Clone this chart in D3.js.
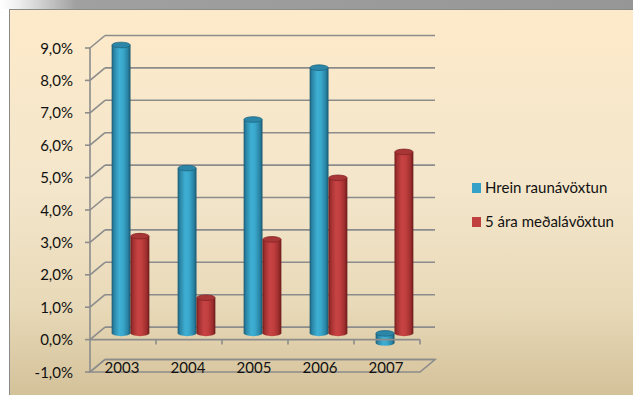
<!DOCTYPE html>
<html>
<head>
<meta charset="utf-8">
<script src="https://cdn.jsdelivr.net/npm/d3@7"></script>
<style>
  html, body { margin: 0; padding: 0; background: #ffffff; }
  svg { display: block; }
  text { font-family: Lato, "Open Sans", "DejaVu Sans", sans-serif; }
</style>
</head>
<body>
<svg id="chart" width="633" height="395"></svg>
<script>
// Annual returns (%) by year
const categories = ["2003", "2004", "2005", "2006", "2007"];
const realReturn = [8.9, 5.1, 6.6, 8.2, -0.3];
const fiveYearAvg = [3.0, 1.1, 2.9, 4.8, 5.6];
const seriesNames = ["Hrein raunávöxtun", "5 ára meðalávöxtun"];
const yTicks = [-1, 0, 1, 2, 3, 4, 5, 6, 7, 8, 9];

const svg = d3.select("#chart");
const W = 633, H = 395;
const defs = svg.append("defs");

// chart area background gradient
const bg = defs.append("linearGradient").attr("id", "bg").attr("x1", 0).attr("y1", 0).attr("x2", 0).attr("y2", 1);
[[0, "#fdeaca"], [0.45, "#f4e6cb"], [0.75, "#e8d9b8"], [1, "#d1bf96"]].forEach(([o, c]) =>
  bg.append("stop").attr("offset", o).attr("stop-color", c));

// top shadow strip
const topShade = defs.append("linearGradient").attr("id", "topShade").attr("x1", 0).attr("y1", 0).attr("x2", 1).attr("y2", 0);
[[0, "#ffffff"], [0.03, "#eeeeee"], [0.12, "#a0a0a0"], [1, "#969696"]].forEach(([o, c]) =>
  topShade.append("stop").attr("offset", o).attr("stop-color", c));

// cylinder body shading
function bodyGrad(id, stops) {
  const g = defs.append("linearGradient").attr("id", id).attr("x1", 0).attr("y1", 0).attr("x2", 1).attr("y2", 0);
  stops.forEach(([o, c]) => g.append("stop").attr("offset", o).attr("stop-color", c));
}
bodyGrad("blueBody", [[0, "#1a5a73"], [0.12, "#2a84a4"], [0.4, "#3eafd3"], [0.6, "#3aa8cc"], [0.85, "#2984a5"], [1, "#19566e"]]);
bodyGrad("redBody", [[0, "#6e1c1c"], [0.12, "#a12f2f"], [0.4, "#c84444"], [0.6, "#c23f3f"], [0.85, "#9e2e2e"], [1, "#6a1a1a"]]);

const palette = [
  { body: "url(#blueBody)", top: "#2b86a7", rim: "#1e6783", key: "#34a2c8" },
  { body: "url(#redBody)", top: "#a93636", rim: "#832525", key: "#c0403f" }
];

// background
svg.append("rect").attr("x", 0).attr("y", 0).attr("width", W).attr("height", H).attr("fill", "#ffffff");
svg.append("rect").attr("x", 0).attr("y", 0).attr("width", W).attr("height", 9).attr("fill", "url(#topShade)");
svg.append("rect").attr("x", 9.5).attr("y", 9.5).attr("width", W).attr("height", H)
  .attr("fill", "url(#bg)").attr("stroke", "#8a8a8a").attr("stroke-width", 1);

// scales
const y = d3.scaleLinear().domain([-1, 9]).range([372, 48]);
const x = d3.scaleBand().domain(categories).range([90, 420]).padding(0);
const xs = d3.scaleBand().domain([0, 1]).range([0, x.bandwidth()]).paddingInner(0).paddingOuter(0.75);
const depth = { dx: 15, dy: -12.5 };
const mid = { dx: depth.dx / 2, dy: depth.dy / 2 };

const gridColor = "#8c8c8c";
const grid = svg.append("g").attr("stroke", gridColor).attr("stroke-width", 1.6).attr("fill", "none");

// back wall gridlines and side-wall diagonals
yTicks.forEach(v => {
  const yf = y(v), yb = y(v) + depth.dy;
  grid.append("line").attr("x1", 90 + depth.dx).attr("x2", 420 + depth.dx).attr("y1", yb).attr("y2", yb);
  grid.append("line").attr("x1", 90).attr("x2", 90 + depth.dx).attr("y1", yf).attr("y2", yb);
});

// floor outline at the axis minimum
const fy = y(-1);
grid.append("path").attr("d",
  `M90,${fy} L420,${fy} L${420 + depth.dx},${fy + depth.dy} L${90 + depth.dx},${fy + depth.dy} Z`);

// cylinders
const data = [];
categories.forEach((c, i) => {
  [realReturn[i], fiveYearAvg[i]].forEach((v, s) => data.push({ c, s, v }));
});

const bars = svg.append("g");
data.forEach(d => {
  const w = xs.bandwidth();
  const x0 = x(d.c) + xs(d.s) + mid.dx;
  const cx = x0 + w / 2;
  const yTop = y(Math.max(d.v, 0)) + mid.dy;
  const yBot = y(Math.min(d.v, 0)) + mid.dy;
  const ry = 2.8;
  const col = palette[d.s];
  const g = bars.append("g");
  g.append("ellipse").attr("cx", cx).attr("cy", yBot).attr("rx", w / 2).attr("ry", ry).attr("fill", col.body);
  g.append("rect").attr("x", x0).attr("y", yTop).attr("width", w).attr("height", yBot - yTop).attr("fill", col.body);
  g.append("ellipse").attr("cx", cx).attr("cy", yTop).attr("rx", w / 2 - 0.3).attr("ry", ry)
    .attr("fill", col.top).attr("stroke", col.rim).attr("stroke-width", 0.8);
});

// front axes
const front = svg.append("g").attr("stroke", gridColor).attr("stroke-width", 1.6).attr("fill", "none");
front.append("line").attr("x1", 90).attr("x2", 90).attr("y1", y(9)).attr("y2", y(-1));
yTicks.forEach(v => front.append("line").attr("x1", 85).attr("x2", 90).attr("y1", y(v)).attr("y2", y(v)));
front.append("line").attr("x1", 90).attr("x2", 420).attr("y1", y(0)).attr("y2", y(0));
categories.forEach(c => {
  const xe = x(c) + x.bandwidth();
  front.append("line").attr("x1", xe).attr("x2", xe).attr("y1", y(0)).attr("y2", y(0) + 5);
});

// y tick labels, Icelandic decimal comma
const fmt = v => v.toFixed(1).replace(".", ",") + "%";
svg.append("g").selectAll("text").data(yTicks).join("text")
  .attr("x", 73).attr("y", v => y(v) + 5.5)
  .attr("text-anchor", "end").attr("font-size", 15).attr("fill", "#111")
  .text(fmt);

// category labels on the floor
svg.append("g").selectAll("text").data(categories).join("text")
  .attr("x", c => x(c) + x.bandwidth() / 2 - 1).attr("y", 373)
  .attr("text-anchor", "middle").attr("font-size", 15).attr("fill", "#111")
  .text(c => c);

// legend
const legend = svg.append("g");
seriesNames.forEach((n, i) => {
  const ly = 183 + i * 34;
  legend.append("rect").attr("x", 472).attr("y", ly).attr("width", 9).attr("height", 10).attr("fill", palette[i].key);
  legend.append("text").attr("x", 485).attr("y", ly + 10).attr("font-size", 15).attr("fill", "#111").text(n);
});
</script>
</body>
</html>
